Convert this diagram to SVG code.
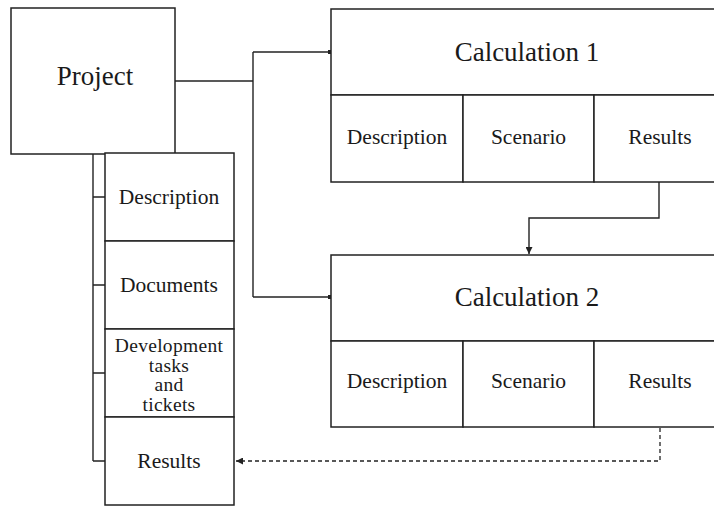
<svg xmlns="http://www.w3.org/2000/svg" width="714" height="506" viewBox="0 0 714 506">
<style>
.box{fill:#fff;stroke:#222;stroke-width:1.5}
.ln{fill:none;stroke:#222;stroke-width:1.4}
.dash{fill:none;stroke:#222;stroke-width:1.3;stroke-dasharray:4 3}
text{font-family:"Liberation Serif","Times New Roman",serif;fill:#1a1a1a;text-anchor:middle}
.t27{font-size:27px}
.t22{font-size:21.5px}
.t19{font-size:19.5px;letter-spacing:0.3px}
</style>
<defs>
<marker id="dot" viewBox="0 0 6 6" refX="5" refY="3" markerWidth="4" markerHeight="4" markerUnits="userSpaceOnUse"><rect x="0" y="0" width="6" height="6" fill="#222"/></marker>
<marker id="arr" viewBox="0 0 10 10" refX="10" refY="5" markerWidth="7" markerHeight="7" markerUnits="userSpaceOnUse" orient="auto"><path d="M0,0 L10,5 L0,10 z" fill="#222"/></marker>
</defs>
<g id="connectors">
<path class="ln" d="M175,81 H253"/>
<path class="ln" d="M253,52 V297"/>
<path class="ln" d="M253,52 H331" marker-end="url(#dot)"/>
<path class="ln" d="M253,297 H331" marker-end="url(#dot)"/>
<path class="ln" d="M659,182 V218 H529 V254" marker-end="url(#arr)"/>
<path class="dash" d="M660,428 V461 H236" marker-end="url(#arr)"/>
<path class="ln" d="M93,154 V461"/>
<path class="ln" d="M93,197 H105 M93,285 H105 M93,373 H105 M93,461 H105"/>
</g>
<g id="project">
<rect class="box" x="11" y="8" width="164" height="146"/>
<text class="t27" x="95" y="85">Project</text>
</g>
<g id="project-list">
<rect class="box" x="105" y="153" width="129" height="88"/>
<text class="t22" x="169" y="204">Description</text>
<rect class="box" x="105" y="241" width="129" height="88"/>
<text class="t22" x="169" y="292">Documents</text>
<rect class="box" x="105" y="329" width="129" height="88"/>
<text class="t19" x="169" y="352">Development</text>
<text class="t19" x="169" y="371.5">tasks</text>
<text class="t19" x="169" y="391">and</text>
<text class="t19" x="169" y="410.5">tickets</text>
<rect class="box" x="105" y="417" width="129" height="88"/>
<text class="t22" x="169" y="468">Results</text>
</g>
<g id="calculation1">
<rect class="box" x="331" y="9" width="400" height="86"/>
<text class="t27" x="527" y="61">Calculation 1</text>
<rect class="box" x="331" y="95" width="132" height="87"/>
<text class="t22" x="397" y="144">Description</text>
<rect class="box" x="463" y="95" width="131" height="87"/>
<text class="t22" x="528.5" y="144">Scenario</text>
<rect class="box" x="594" y="95" width="137" height="87"/>
<text class="t22" x="660" y="144">Results</text>
</g>
<g id="calculation2">
<rect class="box" x="331" y="255" width="400" height="86"/>
<text class="t27" x="527" y="306">Calculation 2</text>
<rect class="box" x="331" y="341" width="132" height="86"/>
<text class="t22" x="397" y="388">Description</text>
<rect class="box" x="463" y="341" width="131" height="86"/>
<text class="t22" x="528.5" y="388">Scenario</text>
<rect class="box" x="594" y="341" width="137" height="86"/>
<text class="t22" x="660" y="388">Results</text>
</g>
</svg>
